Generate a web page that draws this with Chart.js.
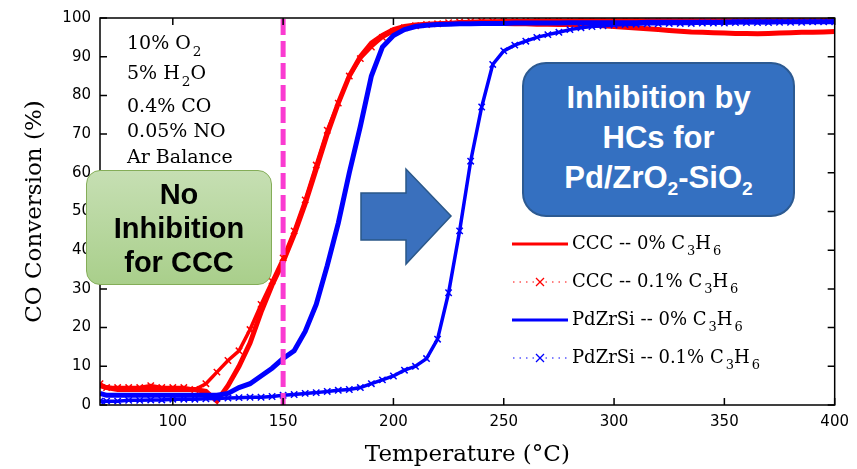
<!DOCTYPE html>
<html>
<head>
<meta charset="utf-8">
<script src="https://cdn.jsdelivr.net/npm/chart.js@4.4.1/dist/chart.umd.min.js"></script>
<style>
  html, body { margin: 0; padding: 0; background: #fff; }
  #wrap { position: relative; width: 857px; height: 469px; overflow: hidden; }
  #chart { position: absolute; left: 0; top: 0; }
  .note { position: absolute; left: 127px; font-family: 'DejaVu Serif', serif; font-size: 19px; line-height: 1; color: #000; white-space: nowrap; }
  .note sub, .leg sub { font-size: 0.72em; vertical-align: -0.5em; line-height: 0; margin-left: 2px; }
  .box { position: absolute; box-sizing: border-box; display: flex; flex-direction: column; align-items: center; justify-content: center; text-align: center; font-family: 'Liberation Sans', Arial, sans-serif; font-weight: bold; }
  .box sub { font-size: 0.62em; vertical-align: -0.35em; line-height: 0; }
  #noInh { left: 86px; top: 170px; width: 186px; height: 115px; border-radius: 14px; background: linear-gradient(#c6dfb3, #a9cf8b); border: 1.5px solid #84ad58; font-size: 29px; line-height: 34px; color: #000; }
  #inh { left: 522px; top: 62px; width: 273px; height: 155px; border-radius: 24px; background: #3470c1; border: 2px solid #2c5a92; font-size: 31px; line-height: 40px; color: #fff; padding-bottom: 4px; }
  #arrow { position: absolute; left: 0; top: 0; }
  .leg { position: absolute; left: 512px; font-family: 'DejaVu Serif', serif; font-size: 18px; line-height: 1; color: #000; white-space: nowrap; }
  .leg svg { vertical-align: middle; margin-right: 2px; }
</style>
</head>
<body>
<div id="wrap">
  <canvas id="chart" width="857" height="469"></canvas>

  <div class="note" style="top:33px">10% O<sub>2</sub></div>
  <div class="note" style="top:63px">5% H<sub>2</sub>O</div>
  <div class="note" style="top:96px">0.4% CO</div>
  <div class="note" style="top:121px">0.05% NO</div>
  <div class="note" style="top:147px">Ar Balance</div>

  <svg id="arrow" width="857" height="469">
    <polygon points="361,193 406,193 406,169 451,216 406,264 406,240 361,240" fill="#3a70bd" stroke="#2a5788" stroke-width="1.5"/>
  </svg>

  <div class="box" id="noInh"><div>No</div><div>Inhibition</div><div>for CCC</div></div>
  <div class="box" id="inh"><div>Inhibition by</div><div>HCs for</div><div>Pd/ZrO<sub>2</sub>-SiO<sub>2</sub></div></div>

  <div class="leg" style="top:234px"><svg width="58" height="12"><line x1="0" y1="6" x2="56" y2="6" stroke="#ff0000" stroke-width="3"/></svg>CCC -- 0% C<sub>3</sub>H<sub>6</sub></div>
  <div class="leg" style="top:272px"><svg width="58" height="12"><line x1="1" y1="6" x2="56" y2="6" stroke="#ff0000" stroke-width="1" stroke-dasharray="1.5,5"/><path d="M24,2 L32,10 M32,2 L24,10" stroke="#ff0000" stroke-width="1.3"/></svg>CCC -- 0.1% C<sub>3</sub>H<sub>6</sub></div>
  <div class="leg" style="top:310px"><svg width="58" height="12"><line x1="0" y1="6" x2="56" y2="6" stroke="#0000ff" stroke-width="3"/></svg>PdZrSi -- 0% C<sub>3</sub>H<sub>6</sub></div>
  <div class="leg" style="top:348px"><svg width="58" height="12"><line x1="1" y1="6" x2="56" y2="6" stroke="#0000ff" stroke-width="1" stroke-dasharray="1.5,5"/><path d="M24,2 L32,10 M32,2 L24,10" stroke="#0000ff" stroke-width="1.3"/></svg>PdZrSi -- 0.1% C<sub>3</sub>H<sub>6</sub></div>
</div>

<script>
// temperature grid (deg C) used by all four runs
const temps = [67, 70, 75, 80, 85, 90, 95, 100, 105, 110,
  115, 120, 125, 130, 135, 140, 145, 150, 155, 160,
  165, 170, 175, 180, 185, 190, 195, 200, 205, 210,
  215, 220, 225, 230, 235, 240, 245, 250, 255, 260,
  265, 270, 275, 280, 285, 290, 295, 300, 305, 310,
  315, 320, 325, 330, 335, 340, 345, 350, 355, 360,
  365, 370, 375, 380, 385, 390, 395, 400];

// CO conversion (%)
const cccNoHc = [5, 4.5, 4, 4, 4, 4, 4, 4, 4, 4,
  3.5, 1, 5, 10, 16, 24, 31, 37, 44, 52,
  61, 70, 78, 85, 90, 93.5, 95.5, 97, 97.8, 98.2,
  98.4, 98.5, 98.6, 98.6, 98.7, 98.7, 98.6, 98.6, 98.5, 98.5,
  98.4, 98.4, 98.3, 98.3, 98.2, 98.2, 98, 97.8, 97.6, 97.4,
  97.2, 97, 96.8, 96.6, 96.4, 96.3, 96.2, 96.1, 96, 96,
  95.9, 96, 96.1, 96.2, 96.3, 96.3, 96.4, 96.5];

const cccHc = [5.5, 4.5, 4.5, 4.5, 4.5, 5, 4.5, 4.5, 4.5, 4,
  5.5, 8.5, 11.5, 14, 19.5, 26, 32, 38, 45, 53,
  62, 71, 78, 85, 89.5, 92.5, 95, 96.5, 97.5, 98,
  98.3, 98.5, 98.8, 99, 99.1, 99.2, 99.2, 99.3, 99.3, 99.3,
  99.4, 99.4, 99.4, 99.4, 99.5, 99.5, 99.5, 99.5, 99.5, 99.5,
  99.5, 99.5, 99.5, 99.5, 99.5, 99.5, 99.5, 99.5, 99.5, 99.5,
  99.5, 99.5, 99.5, 99.5, 99.5, 99.5, 99.5, 99.5];

const pdNoHc = [3, 2.5, 2.5, 2.5, 2.5, 2.5, 2.5, 2.5, 2.5, 2.5,
  2.5, 2.5, 3, 4.5, 5.5, 7.5, 9.5, 12, 14, 19,
  26, 36, 47, 60, 72, 85, 92.5, 95.5, 97, 97.8,
  98.1, 98.3, 98.4, 98.5, 98.5, 98.6, 98.6, 98.6, 98.7, 98.7,
  98.7, 98.7, 98.7, 98.8, 98.8, 98.8, 98.8, 98.8, 98.8, 98.8,
  98.9, 98.9, 98.9, 98.9, 98.9, 98.9, 98.9, 98.9, 99, 99,
  99, 99, 99, 99, 99, 99, 99, 99];

const pdHc = [1, 1, 1, 1.2, 1.2, 1.3, 1.3, 1.5, 1.5, 1.5,
  1.6, 1.7, 1.8, 1.9, 2, 2, 2.2, 2.5, 2.7, 3,
  3.2, 3.5, 3.8, 4, 4.5, 5.5, 6.5, 7.5, 9, 10,
  12, 17, 29, 45, 63, 77, 88, 91.5, 93, 94,
  95, 95.7, 96.3, 97, 97.5, 97.8, 98, 98.2, 98.3, 98.4,
  98.5, 98.5, 98.6, 98.6, 98.6, 98.7, 98.7, 98.7, 98.8, 98.8,
  98.8, 98.8, 98.9, 98.9, 98.9, 99, 99, 99];

const xTicks = [100, 150, 200, 250, 300, 350, 400];
const markTemp = 150;

function toPoints(values) {
  return temps.map((t, i) => ({ x: t, y: values[i] }));
}

// pink marker line, box frame and inward tick marks
const frameTicks = {
  id: 'frameTicks',
  afterDatasetsDraw(chart) {
    const { ctx, chartArea: a, scales: { x, y } } = chart;
    ctx.save();
    const px = x.getPixelForValue(markTemp);
    ctx.strokeStyle = '#fa3bd1';
    ctx.lineWidth = 5;
    ctx.setLineDash([16, 6]);
    ctx.beginPath();
    ctx.moveTo(px, a.top + 1);
    ctx.lineTo(px, a.bottom);
    ctx.stroke();
    ctx.setLineDash([]);

    ctx.strokeStyle = '#000';
    ctx.lineWidth = 1.5;
    ctx.strokeRect(a.left, a.top, a.right - a.left, a.bottom - a.top);
    ctx.beginPath();
    x.ticks.forEach(t => {
      const p = x.getPixelForValue(t.value);
      ctx.moveTo(p, a.bottom); ctx.lineTo(p, a.bottom - 7);
      ctx.moveTo(p, a.top); ctx.lineTo(p, a.top + 7);
    });
    y.ticks.forEach(t => {
      const p = y.getPixelForValue(t.value);
      ctx.moveTo(a.left, p); ctx.lineTo(a.left + 7, p);
      ctx.moveTo(a.right, p); ctx.lineTo(a.right - 7, p);
    });
    ctx.stroke();
    ctx.restore();
  }
};

new Chart(document.getElementById('chart'), {
  type: 'line',
  data: {
    datasets: [
      { label: 'PdZrSi -- 0% C3H6', data: toPoints(pdNoHc), borderColor: '#0000ff', borderWidth: 5, pointRadius: 0, order: 0 },
      { label: 'PdZrSi -- 0.1% C3H6', data: toPoints(pdHc), borderColor: '#0000ff', borderWidth: 3.5, pointStyle: 'crossRot', pointRadius: 4.5, pointBorderWidth: 1.5, pointBorderColor: '#0000ff', order: 1 },
      { label: 'CCC -- 0% C3H6', data: toPoints(cccNoHc), borderColor: '#ff0000', borderWidth: 5, pointRadius: 0, order: 2 },
      { label: 'CCC -- 0.1% C3H6', data: toPoints(cccHc), borderColor: '#ff0000', borderWidth: 3.5, pointStyle: 'crossRot', pointRadius: 4.5, pointBorderWidth: 1.5, pointBorderColor: '#ff0000', order: 3 }
    ]
  },
  options: {
    responsive: false,
    animation: false,
    layout: { padding: { top: 16, right: 21, left: 0, bottom: 0 } },
    plugins: { legend: { display: false }, tooltip: { enabled: false } },
    scales: {
      x: {
        type: 'linear',
        min: 67,
        max: 400,
        grid: { display: false, drawTicks: false },
        border: { display: false },
        afterBuildTicks: s => { s.ticks = xTicks.map(v => ({ value: v })); },
        afterFit: s => { s.height = 64; },
        ticks: { color: '#000', padding: 8, font: { family: 'DejaVu Sans', size: 15 } },
        title: { display: true, text: 'Temperature (°C)', color: '#000', padding: { top: 0, bottom: 0 }, font: { family: 'DejaVu Serif', size: 23 } }
      },
      y: {
        min: 0,
        max: 100,
        grid: { display: false, drawTicks: false },
        border: { display: false },
        afterFit: s => { s.width = 100; },
        ticks: { stepSize: 10, color: '#000', padding: 9, font: { family: 'DejaVu Sans', size: 15 } },
        title: { display: true, text: 'CO Conversion (%)', color: '#000', padding: { top: 21, bottom: 0 }, font: { family: 'DejaVu Serif', size: 23 } }
      }
    }
  },
  plugins: [frameTicks]
});
</script>
</body>
</html>
